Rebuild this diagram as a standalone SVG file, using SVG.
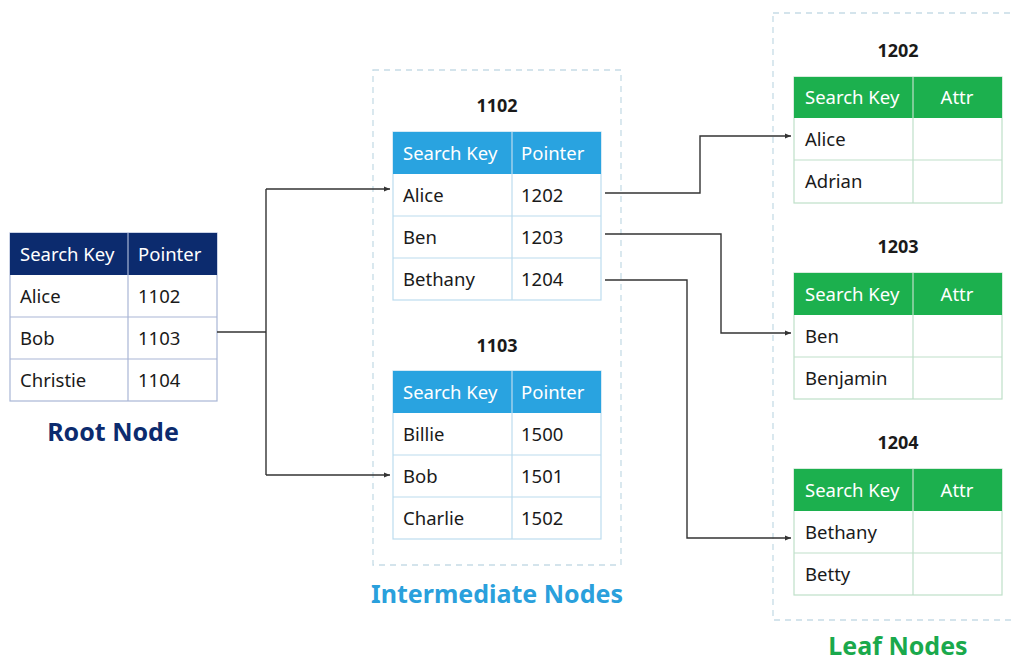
<svg xmlns="http://www.w3.org/2000/svg" width="1014" height="663" viewBox="0 0 1014 663">
  <defs>
    <marker id="arrow" viewBox="0 0 10 10" refX="10" refY="5" markerWidth="6" markerHeight="6" markerUnits="userSpaceOnUse" orient="auto">
      <path d="M0,1 L10,5 L0,9 z" fill="#333"/>
    </marker>
  </defs>
  <style>
    text { font-family: "Noto Sans", "Open Sans", "DejaVu Sans", sans-serif; }
    .cell { font-size: 18.5px; fill: #1a1a1a; }
    .head { font-size: 18.5px; fill: #ffffff; }
    .id { font-size: 18px; font-weight: bold; fill: #1a1a1a; text-anchor: middle; }
    .title { font-size: 25px; font-weight: bold; text-anchor: middle; }
    .group { fill: none; stroke: #c6dce6; stroke-width: 1.3; stroke-dasharray: 6 5; }
    .rootGrid { fill: #ffffff; stroke: #a9b6d6; stroke-width: 1.2; }
    .midGrid { fill: #ffffff; stroke: #bcdcee; stroke-width: 1.2; }
    .leafGrid { fill: #ffffff; stroke: #bfe0c9; stroke-width: 1.2; }
    .link { fill: none; stroke: #333; stroke-width: 1.4; }
  </style>

  <rect width="1014" height="663" fill="#ffffff"/>

  <!-- dashed level frames -->
  <rect class="group" x="373" y="70" width="248" height="495"/>
  <rect class="group" x="773" y="13" width="250" height="607"/>

  <!-- root node -->
  <g id="root">
    <rect class="rootGrid" x="10" y="233" width="207" height="168"/>
    <rect x="10" y="233" width="207" height="42" fill="#0c2b6e"/>
    <line class="rootGrid" x1="10" y1="317" x2="217" y2="317"/>
    <line class="rootGrid" x1="10" y1="359" x2="217" y2="359"/>
    <line class="rootGrid" x1="128" y1="233" x2="128" y2="401"/>
    <text class="head" x="20" y="261">Search Key</text>
    <text class="head" x="138" y="261">Pointer</text>
    <text class="cell" x="20" y="303">Alice</text>
    <text class="cell" x="138" y="303">1102</text>
    <text class="cell" x="20" y="345">Bob</text>
    <text class="cell" x="138" y="345">1103</text>
    <text class="cell" x="20" y="387">Christie</text>
    <text class="cell" x="138" y="387">1104</text>
    <text class="title" x="113" y="441" fill="#0c2b6e">Root Node</text>
  </g>

  <!-- intermediate node 1102 -->
  <g id="node1102">
    <text class="id" x="497" y="112">1102</text>
    <rect class="midGrid" x="393" y="132" width="208" height="168"/>
    <rect x="393" y="132" width="208" height="42" fill="#29a3e0"/>
    <line class="midGrid" x1="393" y1="216" x2="601" y2="216"/>
    <line class="midGrid" x1="393" y1="258" x2="601" y2="258"/>
    <line class="midGrid" x1="512" y1="132" x2="512" y2="300"/>
    <text class="head" x="403" y="160">Search Key</text>
    <text class="head" x="521" y="160">Pointer</text>
    <text class="cell" x="403" y="202">Alice</text>
    <text class="cell" x="521" y="202">1202</text>
    <text class="cell" x="403" y="244">Ben</text>
    <text class="cell" x="521" y="244">1203</text>
    <text class="cell" x="403" y="286">Bethany</text>
    <text class="cell" x="521" y="286">1204</text>
  </g>

  <!-- intermediate node 1103 -->
  <g id="node1103">
    <text class="id" x="497" y="352">1103</text>
    <rect class="midGrid" x="393" y="371" width="208" height="168"/>
    <rect x="393" y="371" width="208" height="42" fill="#29a3e0"/>
    <line class="midGrid" x1="393" y1="455" x2="601" y2="455"/>
    <line class="midGrid" x1="393" y1="497" x2="601" y2="497"/>
    <line class="midGrid" x1="512" y1="371" x2="512" y2="539"/>
    <text class="head" x="403" y="399">Search Key</text>
    <text class="head" x="521" y="399">Pointer</text>
    <text class="cell" x="403" y="441">Billie</text>
    <text class="cell" x="521" y="441">1500</text>
    <text class="cell" x="403" y="483">Bob</text>
    <text class="cell" x="521" y="483">1501</text>
    <text class="cell" x="403" y="525">Charlie</text>
    <text class="cell" x="521" y="525">1502</text>
  </g>
  <text class="title" x="497" y="603" fill="#2aa0dc">Intermediate Nodes</text>

  <!-- leaf node 1202 -->
  <g id="leaf1202">
    <text class="id" x="898" y="57">1202</text>
    <rect class="leafGrid" x="794" y="77" width="208" height="126"/>
    <rect x="794" y="77" width="208" height="41" fill="#1cb04e"/>
    <line class="leafGrid" x1="794" y1="160" x2="1002" y2="160"/>
    <line class="leafGrid" x1="913" y1="77" x2="913" y2="203"/>
    <text class="head" x="805" y="104">Search Key</text>
    <text class="head" x="957" y="104" text-anchor="middle">Attr</text>
    <text class="cell" x="805" y="146">Alice</text>
    <text class="cell" x="805" y="188">Adrian</text>
  </g>

  <!-- leaf node 1203 -->
  <g id="leaf1203">
    <text class="id" x="898" y="253">1203</text>
    <rect class="leafGrid" x="794" y="273" width="208" height="126"/>
    <rect x="794" y="273" width="208" height="42" fill="#1cb04e"/>
    <line class="leafGrid" x1="794" y1="357" x2="1002" y2="357"/>
    <line class="leafGrid" x1="913" y1="273" x2="913" y2="399"/>
    <text class="head" x="805" y="301">Search Key</text>
    <text class="head" x="957" y="301" text-anchor="middle">Attr</text>
    <text class="cell" x="805" y="343">Ben</text>
    <text class="cell" x="805" y="385">Benjamin</text>
  </g>

  <!-- leaf node 1204 -->
  <g id="leaf1204">
    <text class="id" x="898" y="449">1204</text>
    <rect class="leafGrid" x="794" y="469" width="208" height="126"/>
    <rect x="794" y="469" width="208" height="42" fill="#1cb04e"/>
    <line class="leafGrid" x1="794" y1="553" x2="1002" y2="553"/>
    <line class="leafGrid" x1="913" y1="469" x2="913" y2="595"/>
    <text class="head" x="805" y="497">Search Key</text>
    <text class="head" x="957" y="497" text-anchor="middle">Attr</text>
    <text class="cell" x="805" y="539">Bethany</text>
    <text class="cell" x="805" y="581">Betty</text>
  </g>
  <text class="title" x="898" y="655" fill="#1aa94c">Leaf Nodes</text>

  <!-- pointers between levels -->
  <g id="connectors">
    <path class="link" d="M217,332 H266"/>
    <path class="link" d="M266,189 V475"/>
    <path class="link" d="M266,189 H390" marker-end="url(#arrow)"/>
    <path class="link" d="M266,475 H390" marker-end="url(#arrow)"/>
    <path class="link" d="M605,193 H700 V136 H791" marker-end="url(#arrow)"/>
    <path class="link" d="M605,234 H721 V333 H791" marker-end="url(#arrow)"/>
    <path class="link" d="M605,280 H687 V538 H791" marker-end="url(#arrow)"/>
  </g>
</svg>
